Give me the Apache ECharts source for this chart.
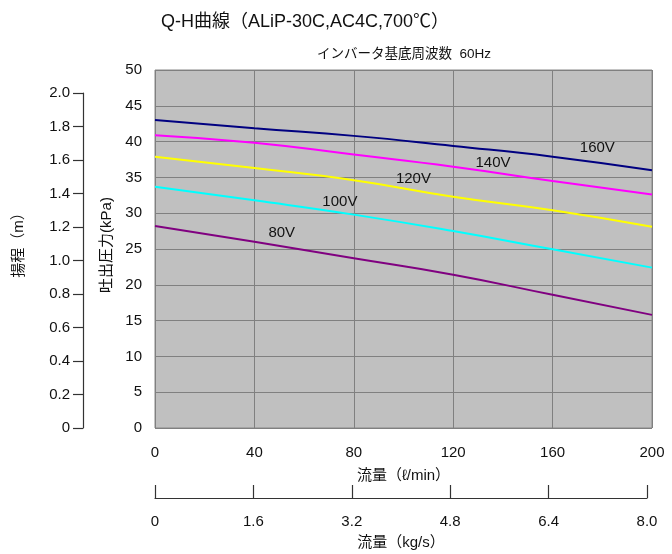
<!DOCTYPE html>
<html><head><meta charset="utf-8">
<script src="https://cdn.jsdelivr.net/npm/echarts@6/dist/echarts.min.js"></script>
<style>html,body{margin:0;padding:0;background:#fff}#c{width:672px;height:554px}</style>
</head><body><div id="c"></div>
<script>
const flow = [0, 40, 80, 120, 160, 200];
const v160 = [43.0, 41.85, 40.8, 39.4, 37.9, 36.0];
const v140 = [40.9, 39.85, 38.2, 36.5, 34.5, 32.6];
const v120 = [37.9, 36.3, 34.6, 32.3, 30.4, 28.1];
const v100 = [33.7, 31.8, 29.8, 27.5, 24.95, 22.4];
const v80  = [28.2, 26.0, 23.7, 21.4, 18.6, 15.8];
const seriesNames = ['160V', '140V', '120V', '100V', '80V'];
const labelPos = [[178, 39.1], [136, 37.0], [104, 34.8], [74.4, 31.6], [51, 27.2]];
const headTicks = [0, 0.2, 0.4, 0.6, 0.8, 1.0, 1.2, 1.4, 1.6, 1.8, 2.0];
const massTicks = [0, 1.6, 3.2, 4.8, 6.4, 8.0];
const colors = ['#000080', '#ff00ff', '#ffff00', '#00ffff', '#800080'];
const allVals = [v160, v140, v120, v100, v80];

const FONT = '"Liberation Sans", "Noto Sans CJK JP", sans-serif';
const chart = echarts.init(document.getElementById('c'));
chart.setOption({
  animation: false,
  textStyle: { fontFamily: FONT },
  title: [
    { text: 'Q-H曲線（ALiP-30C,AC4C,700℃）', left: 300, top: 8, textAlign: 'center',
      textStyle: { fontSize: 18, fontWeight: 'normal', color: '#111', fontFamily: FONT } },
    { text: 'インバータ基底周波数  60Hz', left: 312, top: 43,
      textStyle: { fontSize: 13.5, fontWeight: 'normal', color: '#111', fontFamily: FONT } }
  ],
  grid: [
    { left: 155, top: 70, width: 497, height: 358, show: true, backgroundColor: '#c0c0c0', borderColor: '#888', borderWidth: 1 },
    { left: 83, top: 93, width: 10, height: 335 },
    { left: 155, top: 420, width: 492, height: 78 }
  ],
  xAxis: [
    { type: 'value', gridIndex: 0, min: 0, max: 200, interval: 40,
      name: '流量（ℓ/min）', nameLocation: 'middle', nameGap: 40,
      nameTextStyle: { fontSize: 15, color: '#111' },
      axisLine: { show: false }, axisTick: { show: false },
      axisLabel: { fontSize: 15, color: '#111', margin: 17 },
      splitLine: { show: true, lineStyle: { color: '#808080', width: 1 } } },
    { type: 'value', gridIndex: 1, show: false, min: 0, max: 1 },
    { type: 'value', gridIndex: 2, min: 0, max: 8, interval: 1.6, position: 'bottom',
      name: '流量（kg/s）', nameLocation: 'middle', nameGap: 37,
      nameTextStyle: { fontSize: 15, color: '#111' },
      axisLine: { show: true, lineStyle: { color: '#333', width: 1.2 } },
      axisTick: { show: true, inside: true, length: 13, lineStyle: { color: '#333', width: 1.2 } },
      axisLabel: { fontSize: 15, color: '#111', margin: 16,
        formatter: v => (Math.abs(v - 8) < 1e-6 ? '8.0' : (v === 0 ? '0' : v.toFixed(1))) },
      splitLine: { show: false } }
  ],
  yAxis: [
    { type: 'value', gridIndex: 0, min: 0, max: 50, interval: 5,
      name: '吐出圧力(kPa)', nameLocation: 'middle', nameGap: 35, nameRotate: 90,
      nameTextStyle: { fontSize: 15, color: '#111', padding: [0, 0, 0, 8] },
      axisLine: { show: false }, axisTick: { show: false },
      axisLabel: { fontSize: 15, color: '#111', margin: 13 },
      splitLine: { show: true, lineStyle: { color: '#808080', width: 1 } } },
    { type: 'value', gridIndex: 1, min: 0, max: 2, interval: 0.2, position: 'left',
      name: '揚程（m）', nameLocation: 'middle', nameGap: 57, nameRotate: 90,
      nameTextStyle: { fontSize: 15, color: '#111', padding: [0, 0, 0, 38] },
      axisLine: { show: true, lineStyle: { color: '#333', width: 1.2 } },
      axisTick: { show: true, length: 10, lineStyle: { color: '#333', width: 1.2 } },
      axisLabel: { fontSize: 15, color: '#111', margin: 13,
        formatter: v => (v === 0 ? '0' : v.toFixed(1)) },
      splitLine: { show: false } },
    { type: 'value', gridIndex: 2, show: false, min: 0, max: 1 }
  ],
  series: seriesNames.map((n, i) => ({
    name: n, type: 'line', xAxisIndex: 0, yAxisIndex: 0, smooth: true, showSymbol: false,
    lineStyle: { color: colors[i], width: 2 },
    data: flow.map((f, j) => [f, allVals[i][j]]),
    markPoint: {
      symbol: 'circle', symbolSize: 0, silent: true,
      label: { show: true, formatter: n, fontSize: 15, color: '#111', position: 'inside', fontFamily: FONT },
      data: [{ coord: labelPos[i] }]
    }
  }))
});
</script></body></html>
